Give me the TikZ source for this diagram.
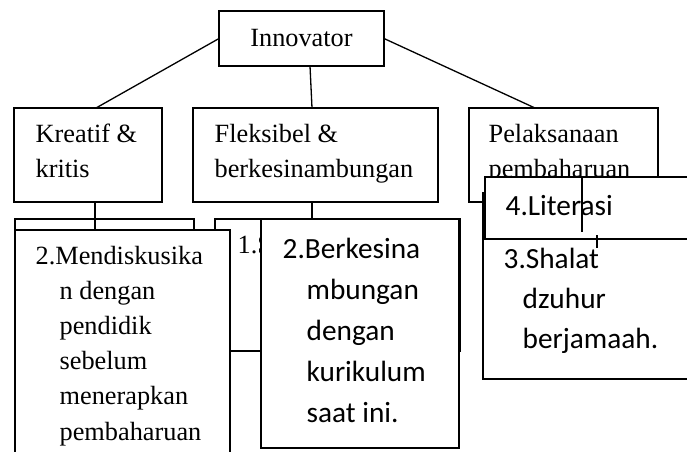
\documentclass[tikz,border=0pt]{standalone}
\usepackage{fontspec}
\setmainfont{Liberation Serif}
\newfontfamily\calfont{Carlito}
\newcommand\mybox[5]{\node[box, minimum width=#4pt, minimum height=#5pt] (#1) at (#2,#3) {};}
\begin{document}
\begin{tikzpicture}[x=1pt,y=-1pt, line width=1.3pt,
  box/.style={draw, fill=white, inner sep=0pt, outer sep=0pt, anchor=north west},
  tms/.style={font=\fontsize{26.3}{35}\selectfont, inner sep=0pt, anchor=base west},
  cal/.style={font=\calfont\fontsize{29.3}{40}\selectfont, inner sep=0pt, anchor=base west},
  link/.style={line width=1.3pt}]
\useasboundingbox (0,0) rectangle (687,451);
\clip (0,0) rectangle (687,451);

% level 0 and 1
\mybox{inn}{219}{11}{165}{55}
\node[tms, anchor=base] (tinn) at (301.5,46) {Innovator};
\mybox{kre}{14}{108}{148}{94}
\node[tms] (tkre1) at (35,142) {Kreatif \&};
\node[tms] (tkre2) at (35,177) {kritis};
\mybox{flek}{193}{108}{245}{94}
\node[tms] (tflek1) at (214,142) {Fleksibel \&};
\node[tms] (tflek2) at (214,177) {berkesinambungan};
\mybox{pel}{469}{108}{189}{94}
\node[tms] (tpel1) at (488,142) {Pelaksanaan};
\node[tms] (tpel2) at (488,177) {pembaharuan};

\draw[link] (inn.west) -- ([xshift=82pt]kre.north west);
\draw[link] ([xshift=91pt]inn.south west) -- ([xshift=119pt]flek.north west);
\draw[link] (inn.east) -- ([xshift=66pt]pel.north west);

% column 2 back box
\mybox{ones}{215}{219}{245}{132}
\node[tms] (tones) at (237,253) {1.S};

% column 1
\mybox{kback}{15}{219}{179}{230}
\mybox{mend}{15}{230}{215}{240}
\node[tms] (tm1) at (35,264) {2.Mendiskusika};
\node[tms] (tm2) at (59,299) {n dengan};
\node[tms] (tm3) at (59,334) {pendidik};
\node[tms] (tm4) at (59,369.5) {sebelum};
\node[tms] (tm5) at (59,404.5) {menerapkan};
\node[tms] (tm6) at (59,440) {pembaharuan};
\draw[link] ([xshift=81pt]kre.south west) -- ([xshift=80pt]mend.north west);

% column 2 front box
\mybox{berk}{261}{219}{198}{229}
\node[cal] (tb1) at (282,258) {2.Berkesina};
\node[cal] (tb2) at (306,299) {mbungan};
\node[cal] (tb3) at (306,340) {dengan};
\node[cal] (tb4) at (306,381) {kurikulum};
\node[cal] (tb5) at (306,422) {saat ini.};
\draw[link] ([xshift=119pt]flek.south west) -- ([xshift=51pt]berk.north west);

% column 3
\mybox{shal}{483}{193}{220}{186}
\node[cal] (ts1) at (503,268) {3.Shalat};
\node[cal] (ts2) at (522,308) {dzuhur};
\node[cal] (ts3) at (522,348) {berjamaah.};
\mybox{lit}{485}{177}{220}{62}
\node[cal] (tl1) at (505,215) {4.Literasi};
\draw[link] ([xshift=97pt]lit.north west) -- ++(0,55);
\draw[link] ([xshift=112pt]lit.south west) ++(0,-4) -- ++(0,13);
\end{tikzpicture}
\end{document}
